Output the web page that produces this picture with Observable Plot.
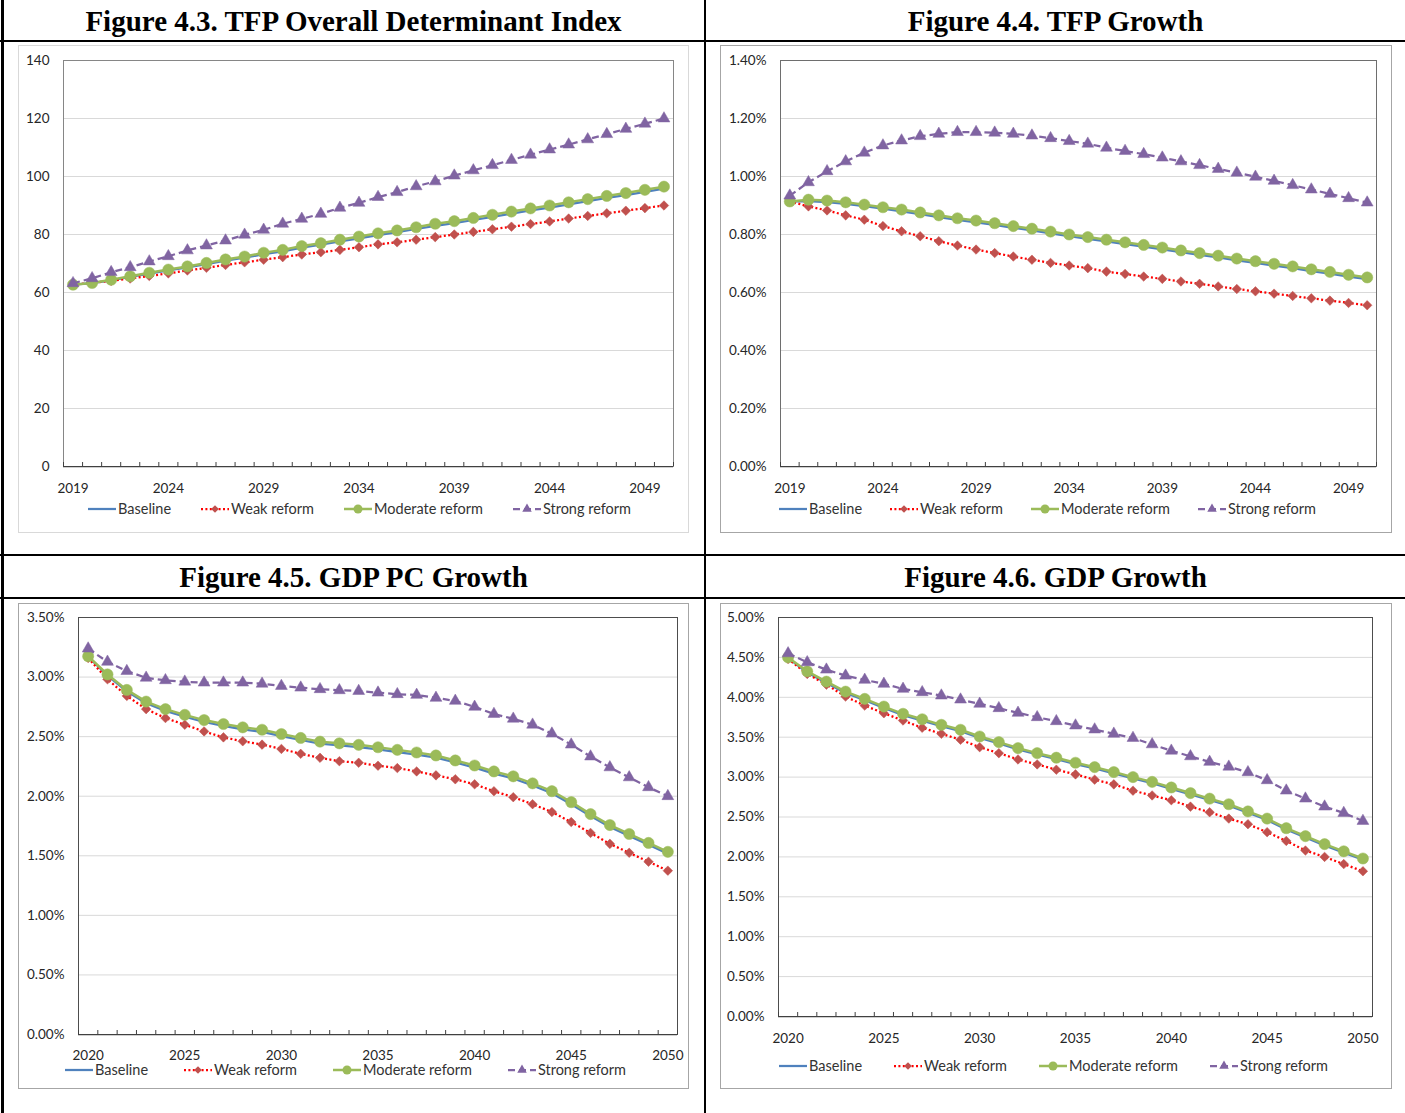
<!DOCTYPE html>
<html><head><meta charset="utf-8">
<script src="https://cdn.jsdelivr.net/npm/d3@7"></script>
<script src="https://cdn.jsdelivr.net/npm/@observablehq/plot@0.6"></script>
<style>
html,body{margin:0;padding:0;background:#fff;}
body{width:1405px;height:1113px;position:relative;overflow:hidden;font-family:Lato,"Open Sans",sans-serif;}
.rule{position:absolute;background:#000;}
.title{position:absolute;text-align:center;font-family:"Liberation Serif","Times New Roman",serif;font-weight:bold;font-size:29px;color:#000;line-height:29px;white-space:nowrap;}
.frame{position:absolute;box-sizing:border-box;border:1px solid #d9d9d9;}
.chart{position:absolute;}
.legend{position:absolute;display:flex;align-items:center;font-size:14.5px;line-height:14px;color:#333;white-space:nowrap;height:14px;}
.item{display:flex;align-items:center;}
.item svg{display:block;margin-right:2px;}
</style></head><body>
<script>
// ---------- DATA ----------
const years2019 = [2019,2020,2021,2022,2023,2024,2025,2026,2027,2028,2029,2030,2031,2032,2033,2034,2035,2036,2037,2038,2039,2040,2041,2042,2043,2044,2045,2046,2047,2048,2049,2050];
const years2020 = [2020,2021,2022,2023,2024,2025,2026,2027,2028,2029,2030,2031,2032,2033,2034,2035,2036,2037,2038,2039,2040,2041,2042,2043,2044,2045,2046,2047,2048,2049,2050];
const labels2019 = [2019,2024,2029,2034,2039,2044,2049];
const labels2020 = [2020,2025,2030,2035,2040,2045,2050];
const seriesNames = ["Baseline","Weak reform","Moderate reform","Strong reform"];

// Figure 4.3 TFP Overall Determinant Index
const tfpIndexBaseline = [62.7,63.2,64.2,65.4,66.5,67.6,68.7,69.8,71.0,72.0,73.2,74.2,75.5,76.5,77.6,78.7,79.8,80.8,81.9,83.0,83.9,85.0,86.1,87.2,88.3,89.3,90.4,91.5,92.6,93.6,94.7,95.8];
const tfpIndexWeak     = [62.7,63.3,64.0,64.8,65.7,66.6,67.6,68.5,69.5,70.4,71.3,72.2,73.1,73.9,74.7,75.6,76.6,77.3,78.2,79.1,80.0,80.9,81.8,82.7,83.6,84.5,85.5,86.4,87.3,88.2,89.1,90.0];
const tfpIndexModerate = [62.7,63.3,64.4,65.6,66.8,67.9,69.0,70.2,71.4,72.4,73.7,74.7,76.0,77.0,78.2,79.3,80.4,81.4,82.5,83.7,84.6,85.7,86.8,87.9,89.0,90.0,91.1,92.2,93.3,94.3,95.4,96.5];
const tfpIndexStrong   = [63.2,64.9,67.0,68.7,70.7,72.5,74.5,76.2,77.9,79.9,81.6,83.7,85.4,87.1,89.2,90.9,92.9,94.6,96.6,98.3,100.3,102.1,103.9,105.7,107.5,109.3,111.0,112.8,114.6,116.4,118.2,120.0];
const tfpIndexTicks = [0,20,40,60,80,100,120,140];

// Figure 4.4 TFP Growth (%)
const tfpGrowthBaseline = [0.914,0.915,0.912,0.906,0.898,0.889,0.880,0.870,0.860,0.850,0.842,0.833,0.823,0.814,0.804,0.794,0.785,0.776,0.767,0.758,0.749,0.739,0.730,0.721,0.711,0.702,0.693,0.684,0.674,0.665,0.655,0.646];
const tfpGrowthWeak     = [0.914,0.897,0.883,0.866,0.851,0.829,0.811,0.794,0.777,0.762,0.748,0.736,0.724,0.713,0.702,0.693,0.684,0.672,0.664,0.655,0.647,0.638,0.630,0.621,0.612,0.604,0.596,0.588,0.580,0.572,0.564,0.556];
const tfpGrowthModerate = [0.914,0.920,0.917,0.911,0.903,0.894,0.886,0.876,0.866,0.856,0.848,0.839,0.829,0.820,0.810,0.800,0.791,0.782,0.773,0.764,0.755,0.745,0.736,0.727,0.717,0.708,0.699,0.690,0.680,0.671,0.661,0.652];
const tfpGrowthStrong   = [0.934,0.980,1.018,1.052,1.082,1.107,1.124,1.139,1.147,1.153,1.153,1.151,1.147,1.141,1.132,1.122,1.113,1.099,1.088,1.077,1.065,1.052,1.039,1.026,1.013,0.999,0.985,0.970,0.955,0.940,0.925,0.910];
const tfpGrowthTicks = [0,0.2,0.4,0.6,0.8,1.0,1.2,1.4];

// Figure 4.5 GDP PC Growth (%)
const gdppcBaseline = [3.170,3.012,2.880,2.780,2.716,2.667,2.623,2.590,2.561,2.540,2.505,2.472,2.441,2.427,2.413,2.394,2.371,2.349,2.324,2.283,2.240,2.190,2.149,2.090,2.025,1.933,1.833,1.742,1.667,1.592,1.518];
const gdppcWeak     = [3.161,2.981,2.842,2.731,2.656,2.600,2.544,2.494,2.461,2.433,2.397,2.356,2.322,2.294,2.281,2.256,2.236,2.208,2.175,2.142,2.100,2.042,1.992,1.933,1.867,1.783,1.692,1.600,1.525,1.450,1.375];
const gdppcModerate = [3.175,3.022,2.892,2.794,2.731,2.683,2.639,2.606,2.578,2.558,2.522,2.489,2.458,2.444,2.431,2.411,2.389,2.367,2.342,2.300,2.258,2.208,2.167,2.108,2.042,1.950,1.850,1.758,1.683,1.608,1.533];
const gdppcStrong   = [3.239,3.128,3.050,2.994,2.973,2.961,2.953,2.953,2.953,2.944,2.925,2.911,2.898,2.889,2.883,2.869,2.856,2.850,2.825,2.800,2.750,2.690,2.650,2.600,2.525,2.433,2.333,2.242,2.158,2.075,2.000];
const gdppcTicks = [0,0.5,1.0,1.5,2.0,2.5,3.0,3.5];

// Figure 4.6 GDP Growth (%)
const gdpBaseline = [4.490,4.310,4.180,4.055,3.963,3.867,3.776,3.708,3.638,3.576,3.492,3.421,3.346,3.283,3.226,3.163,3.108,3.046,2.983,2.923,2.853,2.783,2.713,2.643,2.553,2.463,2.343,2.243,2.143,2.053,1.965];
const gdpWeak     = [4.480,4.293,4.159,4.009,3.896,3.800,3.709,3.618,3.543,3.468,3.375,3.300,3.221,3.159,3.093,3.034,2.968,2.909,2.830,2.770,2.710,2.630,2.560,2.480,2.410,2.310,2.200,2.080,2.000,1.910,1.820];
const gdpModerate = [4.500,4.325,4.196,4.071,3.980,3.884,3.793,3.725,3.655,3.593,3.509,3.438,3.363,3.300,3.243,3.180,3.125,3.063,3.000,2.940,2.870,2.800,2.730,2.660,2.570,2.480,2.360,2.260,2.160,2.070,1.980];
const gdpStrong   = [4.550,4.438,4.346,4.271,4.218,4.168,4.105,4.063,4.021,3.971,3.918,3.863,3.805,3.750,3.700,3.646,3.596,3.543,3.490,3.410,3.330,3.260,3.190,3.130,3.060,2.960,2.830,2.730,2.630,2.550,2.450];
const gdpTicks = [0,0.5,1.0,1.5,2.0,2.5,3.0,3.5,4.0,4.5,5.0];

// ---------- STYLE ----------
const seriesStyle = [
  {stroke:"#4f81bd", width:2.25, dash:null, symbol:null},
  {stroke:"#ff0000", width:2.25, dash:"2,2.4", symbol:"diamond2", fill:"#c0504d", r:4.3},
  {stroke:"#9bbb59", width:2.5, dash:null, symbol:"circle", fill:"#9bbb59", r:5.6},
  {stroke:"#8064a2", width:2.25, dash:"7,4", symbol:"triangle", fill:"#8064a2", r:4.4}
];

const pct = d => d.toFixed(2) + "%";

const charts = [
  {title:"Figure 4.3. TFP Overall Determinant Index", years:years2019, labels:labels2019, series:[tfpIndexBaseline,tfpIndexWeak,tfpIndexModerate,tfpIndexStrong], ticks:tfpIndexTicks, fmt:d=>String(d),
   frame:{l:18,t:45,w:671,h:488,c:"#d9d9d9"}, plotStroke:"#868686", plot:{x0:63,x1:673,y0:60,y1:466}, labelGap:17, legend:{x:88,y:509,gap:30}},
  {title:"Figure 4.4. TFP Growth", years:years2019, labels:labels2019, series:[tfpGrowthBaseline,tfpGrowthWeak,tfpGrowthModerate,tfpGrowthStrong], ticks:tfpGrowthTicks, fmt:pct,
   frame:{l:720,t:45,w:672,h:488,c:"#a6a6a6"}, plotStroke:"#6e6e6e", plot:{x0:780,x1:1376,y0:60,y1:466}, labelGap:17, legend:{x:779,y:509,gap:28}},
  {title:"Figure 4.5. GDP PC Growth", years:years2020, labels:labels2020, series:[gdppcBaseline,gdppcWeak,gdppcModerate,gdppcStrong], ticks:gdppcTicks, fmt:pct,
   frame:{l:18,t:603,w:671,h:486,c:"#a6a6a6"}, plotStroke:"#4d4d4d", plot:{x0:78,x1:677,y0:617,y1:1034}, labelGap:15.5, legend:{x:65,y:1070,gap:36}},
  {title:"Figure 4.6. GDP Growth", years:years2020, labels:labels2020, series:[gdpBaseline,gdpWeak,gdpModerate,gdpStrong], ticks:gdpTicks, fmt:pct,
   frame:{l:720,t:603,w:672,h:486,c:"#a6a6a6"}, plotStroke:"#4d4d4d", plot:{x0:778,x1:1372,y0:617,y1:1016}, labelGap:17, legend:{x:779,y:1066,gap:32}}
];
const titlePos = [{x:3,w:701,top:7},{x:706,w:699,top:7},{x:3,w:701,top:563},{x:706,w:699,top:563}];

// ---------- TABLE LINES ----------
function rule(l,t,w,h){const d=document.createElement("div");d.className="rule";Object.assign(d.style,{left:l+"px",top:t+"px",width:w+"px",height:h+"px"});document.body.appendChild(d);}
rule(1,0,2.5,1113);
rule(704,0,2,1113);
rule(0,40,1405,2);
rule(0,554,1405,2);
rule(0,597,1405,2);

function swatch(i){
  const s = seriesStyle[i];
  const w = 28, h = 14;
  let svg = `<svg width="${w}" height="${h}"><line x1="0" x2="${w}" y1="${h/2}" y2="${h/2}" stroke="${s.stroke}" stroke-width="${s.width}" ${s.dash?`stroke-dasharray="${s.dash}"`:""}/>`;
  if (s.symbol) {
    const sym = {circle:d3.symbolCircle, diamond2:d3.symbolDiamond2, triangle:d3.symbolTriangle}[s.symbol];
    const rr = s.r*0.8;
    const p = d3.symbol(sym, Math.PI*rr*rr)();
    svg += `<path transform="translate(${w/2},${h/2})" d="${p}" fill="${s.fill}"/>`;
  }
  return svg + "</svg>";
}

charts.forEach((cfg, ci) => {
  const tp = titlePos[ci];
  const t = document.createElement("div");
  t.className = "title"; t.textContent = cfg.title;
  Object.assign(t.style, {left:tp.x+"px", width:tp.w+"px", top:tp.top+"px"});
  document.body.appendChild(t);

  const f = document.createElement("div");
  f.className = "frame";
  Object.assign(f.style, {left:cfg.frame.l+"px", top:cfg.frame.t+"px", width:cfg.frame.w+"px", height:cfg.frame.h+"px", borderColor:cfg.frame.c});
  document.body.appendChild(f);

  const rows = [];
  cfg.series.forEach((vals, si) => vals.forEach((v, i) => rows.push({series: seriesNames[si], si, year: cfg.years[i], value: v})));
  const bounds = cfg.years.map(y => y - 0.5).concat([cfg.years[cfg.years.length-1] + 0.5]);

  const left = cfg.frame.l, top = cfg.frame.t;
  const width = cfg.frame.w;
  const height = (cfg.plot.y1 - top) + 40;
  const marginLeft = cfg.plot.x0 - left;
  const marginRight = left + width - cfg.plot.x1;
  const marginTop = cfg.plot.y0 - top;
  const marginBottom = height - (cfg.plot.y1 - top);
  const plotH = cfg.plot.y1 - cfg.plot.y0;

  const marks = [
    Plot.gridY(cfg.ticks, {stroke:"#d9d9d9", strokeOpacity:1, strokeWidth:1}),
    Plot.frame({stroke:cfg.plotStroke, strokeWidth:1}),
    Plot.tickX(bounds, {x:d=>d, stroke:"#404040", strokeOpacity:1, strokeWidth:1, insetTop: plotH - 4}),
    Plot.ruleY([0], {stroke:"#404040", strokeWidth:1.25}),
    Plot.axisY(cfg.ticks, {tickSize:0, tickPadding:14, tickFormat:cfg.fmt, fill:"#262626", fontSize:13.5, label:null}),
    Plot.axisX(cfg.labels, {tickSize:0, tickPadding:cfg.labelGap, tickFormat:d=>String(d), fill:"#262626", fontSize:13.5, label:null})
  ];
  seriesNames.forEach((name, si) => {
    const s = seriesStyle[si];
    const data = rows.filter(r => r.si === si);
    marks.push(Plot.line(data, {x:"year", y:"value", stroke:s.stroke, strokeWidth:s.width, strokeDasharray:s.dash || undefined, strokeLinecap:"butt"}));
    if (s.symbol) marks.push(Plot.dot(data, {x:"year", y:"value", symbol:s.symbol, r:s.r, fill:s.fill, stroke:s.fill, strokeWidth:0.5}));
  });

  const svg = Plot.plot({
    width, height, marginLeft, marginRight, marginTop, marginBottom,
    style:{background:"transparent", fontFamily:"Lato, 'Open Sans', sans-serif", overflow:"visible"},
    x:{type:"linear", domain:[bounds[0], bounds[bounds.length-1]], label:null},
    y:{type:"linear", domain:[cfg.ticks[0], cfg.ticks[cfg.ticks.length-1]], label:null},
    marks
  });
  const wrap = document.createElement("div");
  wrap.className = "chart";
  Object.assign(wrap.style, {left:left+"px", top:top+"px"});
  wrap.appendChild(svg);
  document.body.appendChild(wrap);

  const lg = document.createElement("div");
  lg.className = "legend";
  Object.assign(lg.style, {left:cfg.legend.x+"px", top:(cfg.legend.y-7)+"px", gap:cfg.legend.gap+"px"});
  lg.innerHTML = seriesNames.map((n,i) => `<div class="item">${swatch(i)}<span>${n}</span></div>`).join("");
  document.body.appendChild(lg);
});
</script>
</body></html>
